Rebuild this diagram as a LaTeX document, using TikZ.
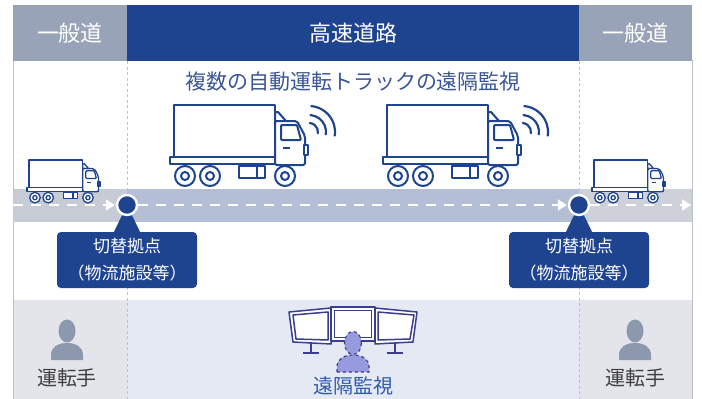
\documentclass[tikz,border=0pt]{standalone}
\usepackage{fontspec}
\usepackage{tikz}
\usetikzlibrary{arrows,arrows.meta,positioning}
\newfontfamily\jp{Noto Sans CJK JP}

\definecolor{navy}{RGB}{30,68,144}
\definecolor{headgrey}{RGB}{152,163,183}
\definecolor{roadgrey}{RGB}{199,203,213}
\definecolor{roadlight}{RGB}{206,209,217}
\definecolor{roadblue}{RGB}{180,191,214}
\definecolor{floorgrey}{RGB}{227,229,235}
\definecolor{floorblue}{RGB}{229,233,243}
\definecolor{framegrey}{RGB}{188,193,203}
\definecolor{personGrey}{RGB}{140,152,173}
\definecolor{screenline}{RGB}{58,62,140}
\definecolor{operator}{RGB}{152,154,224}
\definecolor{titleblue}{RGB}{58,86,150}
\definecolor{labelblue}{RGB}{48,90,172}

% side view of a truck: chassis left end, box top, size, line width
\newcommand\truckicon[4]{%
  \begin{scope}[shift={(#1,#2)},scale=#3,line width=#4]
    \draw[truckline] (4,0) rectangle (105,52);
    \draw[truckline] (0,52) rectangle (134,59);
    \draw[truckline] (105,7) -- (108,7) -- (116,16) -- (105,16) -- cycle;
    \draw[truckline,rounded corners=2] (105,60) -- (105,16) -- (127,16)
      -- (135,31) -- (135,60) -- cycle;
    \draw[truckline,rounded corners=1] (111,20) -- (127,20) -- (131,35) -- (111,35) -- cycle;
    \draw[truckline] (134,40) rectangle (138,50);
    \draw[truckline] (113,43) -- (120,43);
    \draw[truckline] (69,61) rectangle (95,73);
    \draw[truckline] (87,61) -- (87,73);
    \foreach \w in {15,40,115}{
      \draw[truckline] (\w,71) circle[radius=10];
      \draw[truckline] (\w,71) circle[radius=4];
    }
  \end{scope}}

% radio waves
\newcommand\signal[2]{%
  \foreach \rad in {9,17,26}{
    \draw[navy,line width=2.2pt,line cap=round] (#1,#2) ++(8:\rad) arc[start angle=8,end angle=-85,radius=\rad];
  }}

% person silhouette: bottom centre, look
\newcommand\personicon[3]{%
  \begin{scope}[shift={(#1,#2)}]
    \path[#3] (-16,0) -- (-16,-5) .. controls (-16,-13) and (-9,-17) .. (0,-17)
      .. controls (9,-17) and (16,-13) .. (16,-5) -- (16,0) -- cycle;
    \path[#3] (0,-29) ellipse[x radius=8.5,y radius=11.5];
  \end{scope}}

\begin{document}
\begin{tikzpicture}[x=1pt,y=-1pt,
    truckline/.style={draw=navy,fill=white,line join=round},
    sidehead/.style={fill=headgrey,text=white,anchor=north west,minimum height=56pt,
      inner sep=0pt,outer sep=0pt,font=\jp\fontsize{22}{26}\selectfont},
    mainhead/.style={sidehead,fill=navy},
    divider/.style={framegrey,line width=0.8pt,dash pattern=on 3pt off 2.5pt},
    road/.style={white,line width=2.6pt,dash pattern=on 10pt off 8pt,
      -{Triangle[length=9pt,width=11pt]},shorten >=1pt},
    hub/.style={circle,fill=navy,draw=white,line width=2.4pt,minimum size=20pt,inner sep=0pt},
    callout/.style={fill=navy,text=white,rounded corners=4pt,minimum width=140pt,
      minimum height=56pt,align=center,inner sep=2pt,font=\jp\fontsize{17}{27}\selectfont},
    screen/.style={draw=screenline,fill=white,line width=1.5pt,line join=round},
    iconlabel/.style={font=\jp\fontsize{20}{24}\selectfont}]
  \useasboundingbox (0,0) rectangle (702,399);

  % floor and frame
  \fill[floorgrey] (13,300) rectangle (127,399);
  \fill[floorblue] (127,300) rectangle (579,399);
  \fill[floorgrey] (579,300) rectangle (692,399);
  \draw[framegrey,line width=0.8pt] (13,60) -- (13,399);
  \draw[framegrey,line width=0.8pt] (692,60) -- (692,399);
  \draw[divider] (127,61) -- (127,399);
  \draw[divider] (579,61) -- (579,399);

  % header
  \node[sidehead,minimum width=114pt] (genL) at (13,5) {一般道};
  \node[mainhead,minimum width=452pt,right=0pt of genL] (hwy) {高速道路};
  \node[sidehead,minimum width=113pt,right=0pt of hwy] (genR) {一般道};

  \node[text=titleblue,font=\jp\fontsize{21}{25}\selectfont] (title) at (353,82)
    {複数の自動運転トラックの遠隔監視};

  % road
  \fill[roadgrey] (13,189) rectangle (127,222);
  \fill[roadblue] (127,189) rectangle (579,222);
  \fill[roadlight] (579,189) rectangle (692,222);

  \truckicon{170}{105}{1}{2pt}
  \truckicon{383}{105}{1}{2pt}
  \signal{309}{132}
  \signal{522}{132}
  \truckicon{27}{160}{0.53}{1.3pt}
  \truckicon{592}{160}{0.53}{1.3pt}

  % switching points
  \coordinate (swA) at (127,205);
  \coordinate (swB) at (579,205);
  \coordinate (roadL) at (13,205);
  \coordinate (roadR) at (692,205);
  \node[callout] (baseA) at (127,260) {切替拠点\\（物流施設等）};
  \node[callout] (baseB) at (579,260) {切替拠点\\（物流施設等）};
  \fill[navy] ([xshift=-13pt]baseA.north) -- (swA) -- ([xshift=13pt]baseA.north) -- cycle;
  \fill[navy] ([xshift=-13pt]baseB.north) -- (swB) -- ([xshift=13pt]baseB.north) -- cycle;
  \node[hub] (hubA) at (swA) {};
  \node[hub] (hubB) at (swB) {};
  \draw[road] (roadL) -- (hubA);
  \draw[road] (hubA) -- (hubB);
  \draw[road] (hubB) -- (roadR);

  % drivers and remote monitoring
  \personicon{67}{360}{fill=personGrey}
  \personicon{635}{360}{fill=personGrey}
  \node[iconlabel,text=black!75] (drvL) at (67,378) {運転手};
  \node[iconlabel,text=black!75] (drvR) at (635,378) {運転手};

  \draw[screen] (311,342) -- (311,353) (303,353) -- (319,353);
  \draw[screen] (395,342) -- (395,353) (387,353) -- (403,353);
  \draw[screen] (289,312) -- (331,308) -- (331,344) -- (293,342) -- cycle;
  \draw[screen] (293,315) -- (328,312) -- (328,340) -- (296,339) -- cycle;
  \draw[screen] (375,308) -- (417,312) -- (413,342) -- (375,344) -- cycle;
  \draw[screen] (378,312) -- (414,315) -- (410,339) -- (378,340) -- cycle;
  \draw[screen] (331,307) rectangle (375,341);
  \draw[screen] (334.5,310.5) rectangle (371.5,337.5);
  \personicon{353}{372}{fill=operator,draw=screenline,dashed,line width=1.2pt}
  \node[iconlabel,text=labelblue] (remote) at (353,386) {遠隔監視};
\end{tikzpicture}
\end{document}
